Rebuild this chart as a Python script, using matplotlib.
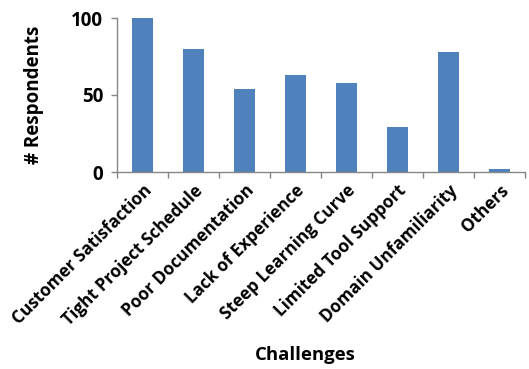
import matplotlib
matplotlib.use("Agg")
import matplotlib.pyplot as plt

categories = ["Customer Satisfaction", "Tight Project Schedule", "Poor Documentation",
              "Lack of Experience", "Steep Learning Curve", "Limited Tool Support",
              "Domain Unfamiliarity", "Others"]
respondents = [100, 80, 54, 63, 58, 29, 78, 2]
yticks = [0, 50, 100]

plt.rcParams['font.family'] = ['Open Sans', 'DejaVu Sans']
plt.rcParams['font.weight'] = 'bold'

fig = plt.figure(figsize=(5.29, 3.69), dpi=100)
ax = fig.add_axes([117/529, 1 - 172/369, (525-117)/529, (172-18)/369])

x = list(range(len(categories)))
ax.bar(x, respondents, width=0.4, color='#4F81BD', zorder=2)
ax.set_xlim(-0.5, len(categories) - 0.5)
ax.set_ylim(0, 100)
ax.set_yticks(yticks)
ax.set_yticklabels([str(t) for t in yticks], fontsize=13.5, fontweight='bold')

ax.set_xticks([i - 0.5 for i in range(len(categories) + 1)])
ax.set_xticklabels([])
ax.set_xticks(x, minor=True)
ax.set_xticklabels(categories, minor=True, rotation=45, ha='right',
                   rotation_mode='anchor', fontsize=12.3, fontweight='bold')
ax.tick_params(axis='x', which='minor', length=0, pad=7)
ax.tick_params(axis='x', which='major', length=4, color='#868686', width=1)
ax.tick_params(axis='y', length=4, color='#868686', width=1, pad=6)

for s in ['top', 'right']:
    ax.spines[s].set_visible(False)
for s in ['left', 'bottom']:
    ax.spines[s].set_color('#868686')
    ax.spines[s].set_linewidth(1)

ax.set_ylabel('# Respondents', fontsize=13.5, fontweight='bold')
ax.yaxis.set_label_coords(-73/408, 0.5)
ax.set_xlabel('Challenges', fontsize=13.3, fontweight='bold')
ax.xaxis.set_label_coords((305-117)/408, -(346-172)/154)

fig.savefig('out.png', dpi=100)
